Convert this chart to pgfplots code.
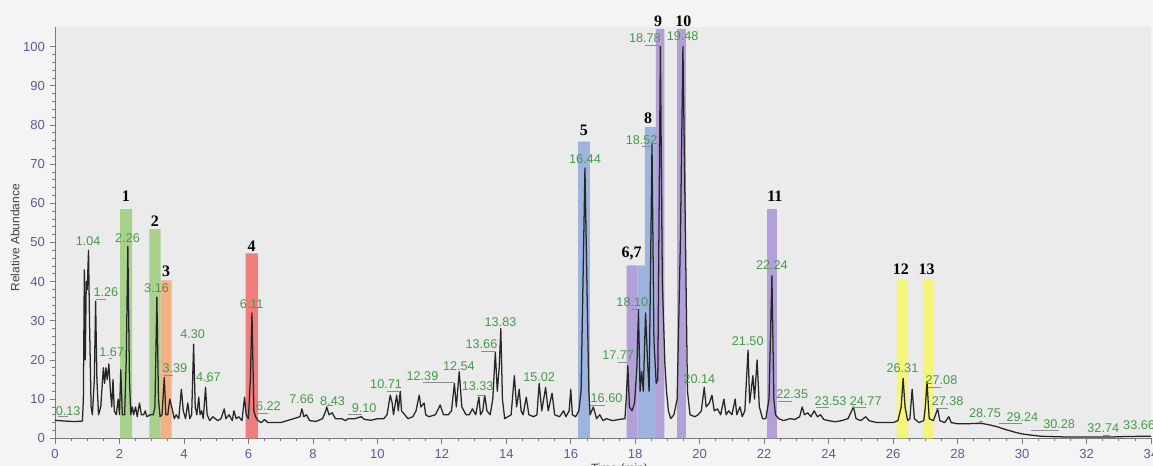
\documentclass[border=0pt]{standalone}
\usepackage{pgfplots}
\pgfplotsset{compat=1.18}
\usepackage{fontspec}
\setmainfont{Liberation Sans}
\newfontfamily\serifb{Liberation Serif}
\definecolor{cgreen}{HTML}{A9D18E}
\definecolor{corange}{HTML}{F4B183}
\definecolor{cred}{HTML}{F17C7C}
\definecolor{cblue}{HTML}{9DB4DE}
\definecolor{cpurple}{HTML}{B4A0D8}
\definecolor{cyellow}{HTML}{F5F57A}
\definecolor{pkgreen}{HTML}{45994A}
\definecolor{tickcol}{HTML}{5B5B9B}
\definecolor{axgray}{HTML}{7A7A7A}
\definecolor{panelbg}{HTML}{EBEBEB}
\definecolor{outerbg}{HTML}{F4F4F4}
\definecolor{leadgray}{HTML}{8C8C8C}
\begin{document}
\begin{tikzpicture}
\fill[outerbg] (-41.25pt,-20.8pt) rectangle (823.5pt,328.7pt);
\begin{axis}[
  at={(0,0)}, anchor=south west,
  width=822pt, height=308.5pt, scale only axis,
  xmin=0, xmax=34, ymin=0, ymax=105,
  clip=false,
  axis background/.style={fill=panelbg},
  axis x line*=bottom, axis y line*=left,
  axis line style={-, draw=axgray, line width=0.6pt},
  xtick={0,2,...,34}, ytick={0,10,...,100},
  minor x tick num=3, minor y tick num=4,
  tick align=outside, major tick length=4pt, minor tick length=2.2pt,
  tick style={draw=axgray, line width=0.5pt},
  ticklabel style={font=\fontsize{9.8}{11}\selectfont, text=tickcol},
  xticklabel style={yshift=-1pt},
  /pgf/number format/assume math mode=true,
]
% highlight bars
\addplot[fill=cgreen, draw=none] coordinates {(2.02,0) (2.02,58.5) (2.39,58.5) (2.39,0)} \closedcycle;
\addplot[fill=cgreen, draw=none] coordinates {(2.93,0) (2.93,53.4) (3.28,53.4) (3.28,0)} \closedcycle;
\addplot[fill=corange, draw=none] coordinates {(3.28,0) (3.28,40.3) (3.62,40.3) (3.62,0)} \closedcycle;
\addplot[fill=cred, draw=none] coordinates {(5.91,0) (5.91,47.2) (6.29,47.2) (6.29,0)} \closedcycle;
\addplot[fill=cblue, draw=none] coordinates {(16.23,0) (16.23,75.7) (16.59,75.7) (16.59,0)} \closedcycle;
\addplot[fill=cpurple, draw=none] coordinates {(17.73,0) (17.73,44.1) (18.07,44.1) (18.07,0)} \closedcycle;
\addplot[fill=cblue, draw=none] coordinates {(18.07,0) (18.07,44.1) (18.30,44.1) (18.30,0)} \closedcycle;
\addplot[fill=cblue, draw=none] coordinates {(18.30,0) (18.30,79.4) (18.64,79.4) (18.64,0)} \closedcycle;
\addplot[fill=cpurple, draw=none] coordinates {(18.64,0) (18.64,104.5) (18.90,104.5) (18.90,0)} \closedcycle;
\addplot[fill=cpurple, draw=none] coordinates {(19.30,0) (19.30,104.5) (19.57,104.5) (19.57,0)} \closedcycle;
\addplot[fill=cpurple, draw=none] coordinates {(22.09,0) (22.09,58.5) (22.39,58.5) (22.39,0)} \closedcycle;
\addplot[fill=cyellow, draw=none] coordinates {(26.11,0) (26.11,40.4) (26.45,40.4) (26.45,0)} \closedcycle;
\addplot[fill=cyellow, draw=none] coordinates {(26.92,0) (26.92,40.4) (27.23,40.4) (27.23,0)} \closedcycle;
% chromatogram trace
\addplot[black!85, line width=0.95pt, line join=round] coordinates {
(0.00,4.6) (0.13,4.5) (0.30,4.4) (0.50,4.3) (0.70,4.3) (0.85,4.4) (0.88,10) (0.91,43) (0.94,20) (0.97,40) (1.00,38) (1.04,48) (1.07,30) (1.12,8) (1.16,6)
(1.22,15) (1.26,35) (1.30,15) (1.35,6) (1.42,8) (1.50,18) (1.54,14) (1.58,18) (1.62,15) (1.67,19) (1.72,12) (1.76,8) (1.80,15) (1.84,7) (1.90,6) (1.96,10) (2.00,6)
(2.04,17.5) (2.09,6) (2.16,6) (2.21,20) (2.26,49) (2.31,15) (2.35,6) (2.40,8) (2.44,6) (2.50,8) (2.55,5.5) (2.62,9) (2.68,6) (2.75,6) (2.80,7) (2.85,5.5)
(2.95,6) (3.05,6) (3.10,8) (3.16,36) (3.21,10) (3.26,5.5) (3.32,6) (3.39,15.5) (3.44,6) (3.50,6) (3.56,10) (3.62,8) (3.70,5) (3.76,6) (3.84,5) (3.92,12.5)
(3.98,7) (4.05,5) (4.12,9) (4.18,5) (4.24,6) (4.30,24) (4.35,8) (4.40,6) (4.46,10.5) (4.50,6) (4.55,7) (4.60,5) (4.67,13) (4.72,6) (4.80,4.5) (4.90,5.5) (4.97,5)
(5.05,4.5) (5.15,5) (5.25,7.5) (5.30,5) (5.40,6) (5.50,4.5) (5.55,7) (5.62,5) (5.70,5.5) (5.80,4.5) (5.88,10.5) (5.93,6) (6.00,5) (6.06,15) (6.11,32) (6.17,7)
(6.22,5.5) (6.30,4.5) (6.40,4) (6.50,4.8) (6.60,4) (6.80,4) (7.00,4) (7.20,4.5) (7.40,5) (7.60,5.5) (7.66,7.5) (7.72,5.5) (7.80,6) (7.90,4.5) (8.10,4.3)
(8.30,5) (8.40,7) (8.43,8) (8.50,6) (8.60,6.5) (8.70,5) (8.90,5) (9.00,4.5) (9.10,5) (9.30,5) (9.50,5.5) (9.60,4.8) (9.80,4.6) (10.00,5) (10.20,5) (10.30,6)
(10.40,11) (10.46,9) (10.50,6) (10.60,11) (10.65,7) (10.71,12) (10.75,7) (10.85,6) (10.95,5) (11.10,5.5) (11.20,7) (11.30,11) (11.35,8) (11.45,9) (11.50,6)
(11.60,5.5) (11.80,6) (11.95,8.5) (12.05,6) (12.20,6) (12.30,7) (12.39,14) (12.45,8) (12.54,17) (12.62,8) (12.75,6) (12.85,6) (12.95,7.5) (13.05,6) (13.15,10.5)
(13.20,6) (13.27,7) (13.33,11) (13.40,7) (13.50,6) (13.58,10) (13.66,22) (13.72,12) (13.78,18) (13.83,28) (13.88,10) (13.95,5) (14.05,5.5) (14.15,6) (14.25,16)
(14.32,8) (14.40,12.5) (14.46,7) (14.52,6) (14.62,10.5) (14.70,6) (14.85,5.5) (14.95,6) (15.02,14) (15.10,7) (15.22,13) (15.30,7) (15.42,11.5) (15.50,6)
(15.65,5.5) (15.78,7) (15.85,5.5) (15.95,7) (16.00,12.5) (16.05,6) (16.15,5.5) (16.25,7) (16.32,12) (16.38,40) (16.44,69) (16.50,40) (16.56,12) (16.60,6)
(16.70,8) (16.80,5) (16.90,6) (17.00,4.5) (17.10,5) (17.30,4.5) (17.50,4.8) (17.68,5) (17.72,10) (17.77,18.5) (17.82,8) (17.90,7) (17.98,9) (18.05,18)
(18.10,32.8) (18.15,12) (18.20,17) (18.25,12) (18.32,32) (18.38,20) (18.43,12) (18.52,75) (18.58,25) (18.65,14) (18.70,15) (18.78,100) (18.84,40) (18.92,19)
(18.97,12) (19.03,7) (19.10,5) (19.20,6) (19.30,10) (19.40,50) (19.48,100) (19.56,50) (19.62,12) (19.70,6) (19.85,5.5) (19.95,6) (20.05,7) (20.14,13) (20.20,8)
(20.30,9) (20.38,11) (20.45,7) (20.55,7.5) (20.65,6) (20.75,10) (20.82,6) (20.90,7) (21.00,6) (21.10,10) (21.15,6) (21.25,8) (21.32,5.5) (21.40,7) (21.50,22.5)
(21.55,9) (21.65,16) (21.70,10) (21.78,20) (21.85,8) (21.95,5) (22.05,5) (22.15,10) (22.24,41.5) (22.30,10) (22.35,6) (22.45,5) (22.60,4.5) (22.80,5) (22.95,4.8)
(23.10,5.5) (23.18,8) (23.25,6) (23.35,6.5) (23.45,5.5) (23.55,7) (23.65,5.5) (23.75,6) (23.85,4.8) (24.00,4.5) (24.20,4.2) (24.40,4.5) (24.60,5) (24.77,8)
(24.85,5) (25.00,4.5) (25.15,5.5) (25.25,4.5) (25.50,4) (25.80,4) (26.00,4) (26.15,4.5) (26.25,8) (26.31,15.3) (26.37,8) (26.45,4.5) (26.52,5) (26.59,12.5)
(26.66,5) (26.80,4) (26.95,4.5) (27.00,8) (27.05,14.5) (27.12,5) (27.25,4.5) (27.38,7.5) (27.45,4.5) (27.60,4) (27.73,5.5) (27.80,4) (28.00,3.7) (28.30,3.7)
(28.60,3.8) (28.75,3.8) (29.00,3.4) (29.24,2.9) (29.50,2.2) (29.80,1.5) (30.00,1.1) (30.28,0.8) (30.60,0.5) (31.00,0.4) (31.50,0.3) (32.00,0.3) (32.74,0.3)
(33.00,0.4) (33.66,0.5) (34.00,0.5)
};
% leader lines
\begin{scope}[leadgray, line width=0.4pt]
\draw (axis cs:0.10,5.5) -- (axis cs:0.40,5.5);
\draw (axis cs:1.26,35.5) -- (axis cs:1.58,35.5);
\draw (axis cs:1.67,20.5) -- (axis cs:1.78,20.5);
\draw (axis cs:3.38,16.2) -- (axis cs:3.67,16.2);
\draw (axis cs:4.67,14.5) -- (axis cs:4.78,14.5);
\draw (axis cs:6.31,6.5) -- (axis cs:6.62,6.5);
\draw (axis cs:8.43,8.3) -- (axis cs:8.62,8.3);
\draw (axis cs:9.10,6.1) -- (axis cs:9.51,6.1);
\draw (axis cs:10.29,12.1) -- (axis cs:10.67,12.1);
\draw (axis cs:11.42,14.3) -- (axis cs:12.38,14.3);
\draw (axis cs:13.10,11.1) -- (axis cs:13.33,11.1);
\draw (axis cs:13.23,22.3) -- (axis cs:13.65,22.3);
\draw (axis cs:16.60,8.3) -- (axis cs:17.05,8.3);
\draw (axis cs:17.45,19.3) -- (axis cs:17.73,19.3);
\draw (axis cs:17.91,32.9) -- (axis cs:18.09,32.9);
\draw (axis cs:18.20,74.6) -- (axis cs:18.50,74.6);
\draw (axis cs:18.30,100.3) -- (axis cs:18.77,100.3);
\draw (axis cs:22.44,9.5) -- (axis cs:22.85,9.5);
\draw (axis cs:23.60,7.9) -- (axis cs:24.00,7.9);
\draw (axis cs:24.76,7.9) -- (axis cs:25.15,7.9);
\draw (axis cs:27.09,13.0) -- (axis cs:27.47,13.0);
\draw (axis cs:27.33,7.7) -- (axis cs:27.69,7.7);
\draw (axis cs:28.65,4.3) -- (axis cs:28.80,4.3);
\draw (axis cs:29.29,3.8) -- (axis cs:30.01,3.8);
\draw (axis cs:30.29,2.1) -- (axis cs:31.15,2.1);
\draw (axis cs:32.50,0.8) -- (axis cs:32.74,0.8);
\end{scope}
% peak labels
\begin{scope}[every node/.style={text=pkgreen, font=\fontsize{9.5}{11}\selectfont, inner sep=0pt}]
\node at (axis cs:0.41,7.0) {0.13};
\node at (axis cs:1.03,50.2) {1.04};
\node at (axis cs:1.58,37.2) {1.26};
\node at (axis cs:1.76,21.9) {1.67};
\node at (axis cs:2.25,51.0) {2.26};
\node at (axis cs:3.15,38.2) {3.16};
\node at (axis cs:3.72,17.8) {3.39};
\node at (axis cs:4.27,26.6) {4.30};
\node at (axis cs:4.76,15.5) {4.67};
\node at (axis cs:6.10,34.3) {6.11};
\node at (axis cs:6.62,8.1) {6.22};
\node at (axis cs:7.65,10.0) {7.66};
\node at (axis cs:8.61,9.6) {8.43};
\node at (axis cs:9.59,7.8) {9.10};
\node at (axis cs:10.27,13.8) {10.71};
\node at (axis cs:11.40,15.9) {12.39};
\node at (axis cs:12.53,18.5) {12.54};
\node at (axis cs:13.11,13.2) {13.33};
\node at (axis cs:13.23,24.0) {13.66};
\node at (axis cs:13.82,29.6) {13.83};
\node at (axis cs:15.02,15.6) {15.02};
\node at (axis cs:16.44,71.2) {16.44};
\node at (axis cs:17.11,10.2) {16.60};
\node at (axis cs:17.47,21.1) {17.77};
\node at (axis cs:17.91,34.8) {18.10};
\node at (axis cs:18.20,76.2) {18.52};
\node at (axis cs:18.30,102.1) {18.78};
\node at (axis cs:19.47,102.6) {19.48};
\node at (axis cs:19.99,15.1) {20.14};
\node at (axis cs:21.49,24.9) {21.50};
\node at (axis cs:22.24,44.1) {22.24};
\node at (axis cs:22.87,11.3) {22.35};
\node at (axis cs:24.06,9.4) {23.53};
\node at (axis cs:25.15,9.6) {24.77};
\node at (axis cs:26.29,17.9) {26.31};
\node at (axis cs:27.50,14.9) {27.08};
\node at (axis cs:27.69,9.4) {27.38};
\node at (axis cs:28.85,6.5) {28.75};
\node at (axis cs:30.01,5.3) {29.24};
\node at (axis cs:31.15,3.6) {30.28};
\node at (axis cs:32.52,2.7) {32.74};
\node at (axis cs:33.63,3.3) {33.66};
\end{scope}
% compound numbers
\begin{scope}[every node/.style={font=\serifb\bfseries\fontsize{12}{14}\selectfont, inner sep=0pt}]
\node at (axis cs:2.20,61.9) {1};
\node at (axis cs:3.10,55.5) {2};
\node at (axis cs:3.45,42.7) {3};
\node at (axis cs:6.10,49.1) {4};
\node at (axis cs:16.41,78.7) {5};
\node at (axis cs:17.89,47.2) {6,7};
\node at (axis cs:18.40,81.7) {8};
\node at (axis cs:18.71,106.4) {9};
\node at (axis cs:19.49,106.4) {10};
\node at (axis cs:22.33,61.9) {11};
\node at (axis cs:26.24,43.2) {12};
\node at (axis cs:27.04,43.2) {13};
\end{scope}
\node[rotate=90, text=black!75, font=\fontsize{9}{11}\selectfont] at (rel axis cs:-0.0365,0.487) {Relative Abundance};
\node[anchor=north, text=black!75, font=\fontsize{9}{11}\selectfont] at (rel axis cs:0.515,0) [yshift=-15.5pt] {Time (min)};
\end{axis}
\pgfresetboundingbox
\path[use as bounding box] (-41.25pt,-20.8pt) rectangle (823.5pt,328.7pt);
\end{tikzpicture}
\end{document}
